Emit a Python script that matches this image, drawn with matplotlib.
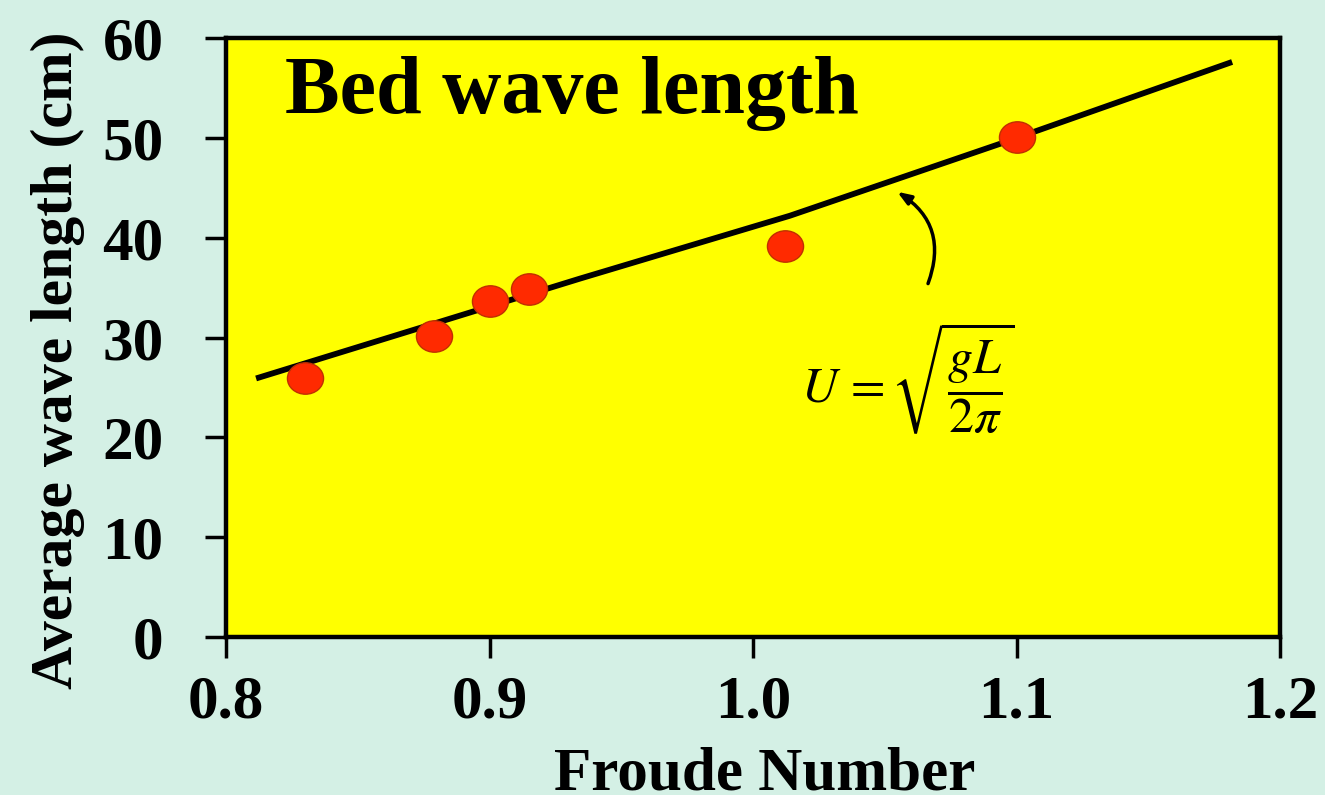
import numpy as np
import matplotlib
matplotlib.use("Agg")
from matplotlib import pyplot as plt
from matplotlib.path import Path

# measured points
froude = [0.83, 0.879, 0.90, 0.915, 1.012, 1.10]
wave_len = [25.9, 30.2, 33.7, 34.9, 39.2, 50.1]

# theory curve
curve_x = [0.8114, 0.9343, 1.014, 1.0937, 1.1818]
curve_y = [25.9, 35.9, 42.2, 49.4, 57.6]

x_ticks = [0.8, 0.9, 1.0, 1.1, 1.2]
x_ticklabels = ["0.8", "0.9", "1.0", "1.1", "1.2"]
y_ticks = [0, 10, 20, 30, 40, 50, 60]

bg = "#d4f0e5"
plt.rcParams["font.family"] = ["Liberation Serif", "DejaVu Serif"]
plt.rcParams["mathtext.fontset"] = "stix"

fig = plt.figure(figsize=(13.25, 7.95), dpi=100, facecolor=bg)
ax = fig.add_axes([0.1706, 0.1987, 0.7955, 0.7535])
ax.set_facecolor("#ffff00")

ax.plot(curve_x, curve_y, color="black", lw=4.2, solid_capstyle="butt",
        solid_joinstyle="round", zorder=2)

# slightly wide ellipse marker
circ = Path.unit_circle()
ell = Path(circ.vertices * np.array([1.15, 1.0]), circ.codes)
ax.plot(froude, wave_len, linestyle="none", marker=ell, markersize=26,
        markerfacecolor="#ff2a00", markeredgecolor="#c03000",
        markeredgewidth=1.0, zorder=3)

ax.set_xlim(0.8, 1.2)
ax.set_ylim(0, 60)
ax.set_xticks(x_ticks)
ax.set_xticklabels(x_ticklabels)
ax.set_yticks(y_ticks)
ax.tick_params(axis="both", direction="out", length=15, width=2.5,
               labelsize=44, top=False, right=False)
ax.tick_params(axis="x", pad=12)
ax.tick_params(axis="y", pad=30)
for lab in ax.get_xticklabels() + ax.get_yticklabels():
    lab.set_fontweight("bold")
for s in ax.spines.values():
    s.set_linewidth(3.2)

ax.text(0.056, 0.875, "Bed wave length", transform=ax.transAxes,
        fontsize=59, fontweight="bold", ha="left", va="baseline")

ax.text(0.647, 0.432, r"$U\,=\sqrt{\dfrac{gL}{2\pi}}$", transform=ax.transAxes,
        fontsize=36, fontweight="normal", ha="center", va="center")

ax.annotate("", xy=(1.0547, 44.6), xytext=(1.0664, 35.4),
            arrowprops=dict(arrowstyle="-|>,head_length=0.8,head_width=0.3",
                            connectionstyle="arc3,rad=0.4", lw=2.5,
                            color="black", shrinkA=0, shrinkB=0))

fig.text(765 / 1325, 1 - 789 / 795, "Froude Number", fontsize=44,
         fontweight="bold", ha="center", va="baseline")
fig.text(58 / 1325, 1 - 360 / 795, "Average wave length (cm)", fontsize=43,
         fontweight="bold", ha="center", va="center", rotation=90)

fig.savefig("out.png", dpi=100, facecolor=bg)
